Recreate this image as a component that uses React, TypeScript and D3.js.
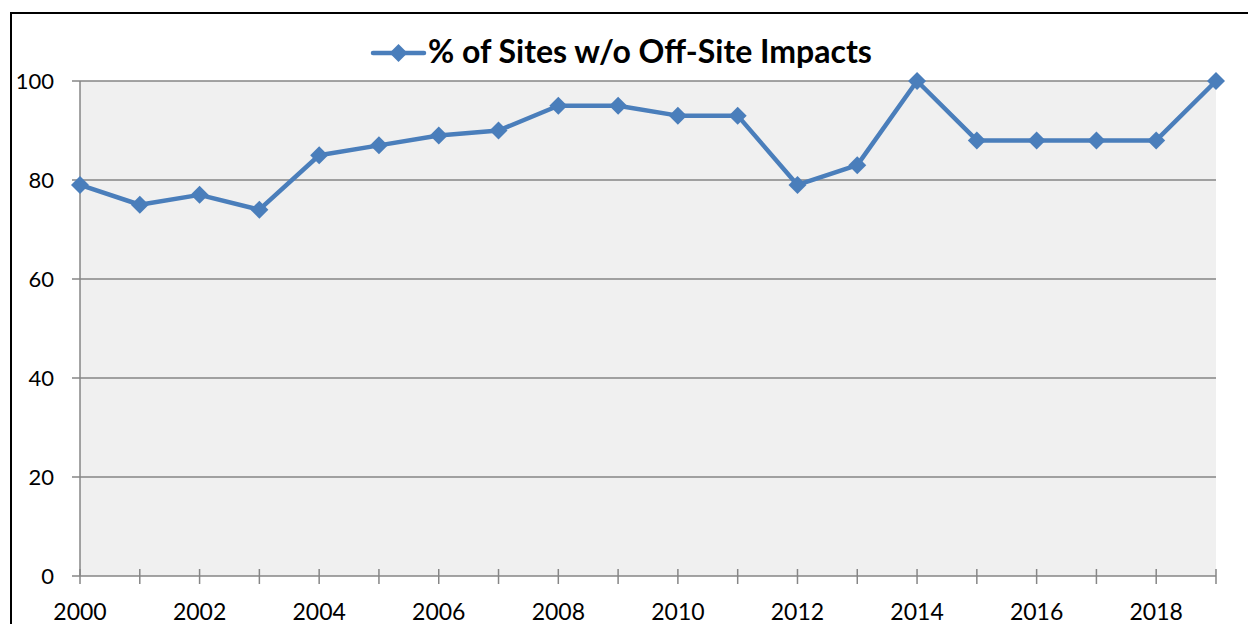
import React from "react";
import * as d3 from "d3";

const years = [2000, 2001, 2002, 2003, 2004, 2005, 2006, 2007, 2008, 2009, 2010, 2011, 2012, 2013, 2014, 2015, 2016, 2017, 2018, 2019];
const pctSites = [79, 75, 77, 74, 85, 87, 89, 90, 95, 95, 93, 93, 79, 83, 100, 88, 88, 88, 88, 100];
const yTicks = [0, 20, 40, 60, 80, 100];
const xLabelYears = [2000, 2002, 2004, 2006, 2008, 2010, 2012, 2014, 2016, 2018];
const seriesName = "% of Sites w/o Off-Site Impacts";

const W = 1248, H = 624;
const plot = { left: 80, right: 1216, top: 81, bottom: 576 };
const color = "#4a7ebb";
const grid = "#868686";
const font = "Lato, 'Open Sans', sans-serif";

export default function App() {
  const x = d3.scaleLinear().domain([2000, 2019]).range([plot.left, plot.right]);
  const y = d3.scaleLinear().domain([0, 100]).range([plot.bottom, plot.top]);
  const line = d3.line<number>().x((_, i) => x(years[i])).y((d) => y(d));
  const diamond = (cx: number, cy: number, r: number) =>
    `M${cx},${cy - r}L${cx + r},${cy}L${cx},${cy + r}L${cx - r},${cy}Z`;

  return (
    <svg width={W} height={H} style={{ position: "fixed", left: 0, top: 0, background: "#fff" }}>
      <rect x={11} y={13} width={W + 20} height={H + 20} fill="#fff" stroke="#000" strokeWidth={2} />
      <rect x={plot.left} y={plot.top} width={plot.right - plot.left} height={plot.bottom - plot.top} fill="#f0f0f0" />
      {yTicks.map((t) => (
        <g key={t}>
          <line x1={plot.left - 8} x2={plot.right} y1={y(t)} y2={y(t)} stroke={grid} strokeWidth={1.5} />
          <text x={54} y={y(t)} dy="0.36em" textAnchor="end" fontFamily={font} fontSize={22} fill="#000">{t}</text>
        </g>
      ))}
      <line x1={plot.left} x2={plot.left} y1={plot.top} y2={plot.bottom} stroke={grid} strokeWidth={1.5} />
      {years.map((yr) => (
        <line key={yr} x1={x(yr)} x2={x(yr)} y1={plot.bottom - 7} y2={plot.bottom + 8} stroke={grid} strokeWidth={1.5} />
      ))}
      {xLabelYears.map((yr) => (
        <text key={yr} x={x(yr)} y={620} textAnchor="middle" fontFamily={font} fontSize={23} fill="#000">{yr}</text>
      ))}
      <path d={line(pctSites) || ""} fill="none" stroke={color} strokeWidth={4.5} strokeLinejoin="round" />
      {pctSites.map((v, i) => (
        <path key={i} d={diamond(x(years[i]), y(v), 9)} fill={color} />
      ))}
      <line x1={373} x2={424} y1={53} y2={53} stroke={color} strokeWidth={4.5} strokeLinecap="round" />
      <path d={diamond(398.5, 53, 9)} fill={color} />
      <text x={428} y={63} fontFamily={font} fontSize={32} fontWeight="bold" fill="#000">{seriesName}</text>
    </svg>
  );
}
